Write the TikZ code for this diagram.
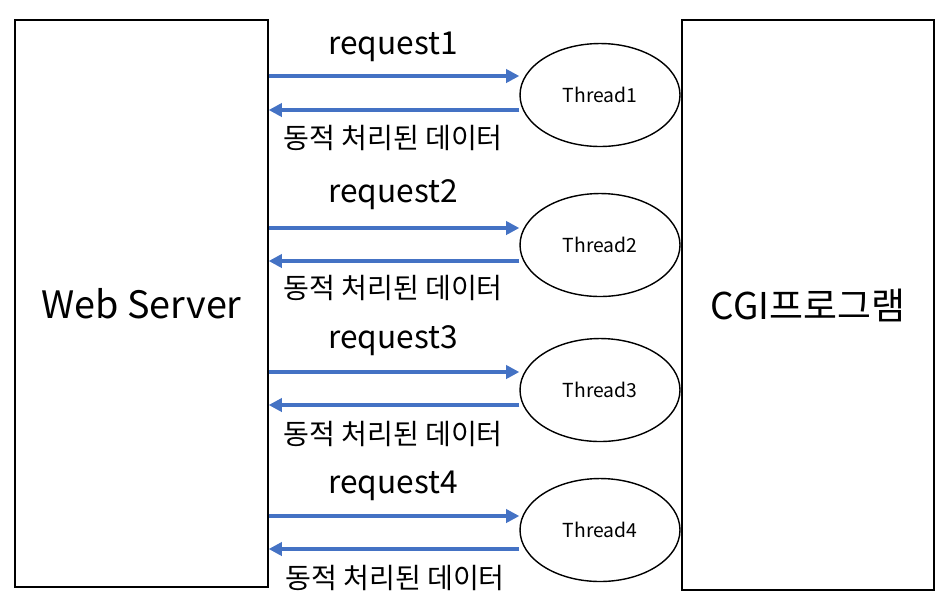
\documentclass[tikz,border=0pt]{standalone}
\usepackage{fontspec}
\setmainfont{Noto Sans CJK KR}
\usepackage{tikz}
\usetikzlibrary{arrows.meta}
\usetikzlibrary{shapes,positioning}
\tikzset{>={Triangle[length=7.5pt,width=7.5pt]},
  box/.style={draw,thick,inner sep=0pt},
  thread/.style={draw,thick,ellipse,minimum width=3.2cm,minimum height=2.06cm,inner sep=0pt,font=\fontsize{11}{13}\selectfont},
  flow/.style={->,line width=1.8pt,draw={rgb,255:red,68;green,114;blue,196}},
  lbl/.style={font=\fontsize{16}{19}\selectfont,inner sep=0pt},
  req/.style={font=\fontsize{18}{21}\selectfont,inner sep=0pt}}

\begin{document}
\begin{tikzpicture}[x=0.02cm,y=-0.02cm]
  \useasboundingbox (0,0) rectangle (949,610);

  \node [box,minimum width=5.06cm,minimum height=11.34cm] (ws) at (141.5,303.5) {};
  \node [font=\fontsize{21.5}{25}\selectfont] at (ws.center) {Web Server};
  \node [box,minimum width=5.04cm,minimum height=11.4cm] (cgi) at (808,305) {};
  \node [font=\fontsize{21}{25}\selectfont] at (cgi.center) {CGI프로그램};



  \node [thread] (t1) at (600,95) {Thread1};
  \node [thread] (t2) at (600,245) {Thread2};
  \node [thread] (t3) at (600,390) {Thread3};
  \node [thread] (t4) at (600,530) {Thread4};




  \draw [flow] (ws.east |- 0,76) -- (t1.west |- 0,76);
  \draw [flow] (t1.west |- 0,110) -- (ws.east |- 0,110);
  \draw [flow] (ws.east |- 0,228) -- (t2.west |- 0,228);
  \draw [flow] (t2.west |- 0,261) -- (ws.east |- 0,261);
  \draw [flow] (ws.east |- 0,372) -- (t3.west |- 0,372);
  \draw [flow] (t3.west |- 0,405) -- (ws.east |- 0,405);
  \draw [flow] (ws.east |- 0,516) -- (t4.west |- 0,516);
  \draw [flow] (t4.west |- 0,549) -- (ws.east |- 0,549);




  \node [req] (r1) at (393,47) {request1};
  \node [lbl] (d1) at (393,138) {동적 처리된 데이터};
  \node [req] (r2) at (393,195) {request2};
  \node [lbl] (d2) at (393,288) {동적 처리된 데이터};
  \node [req] (r3) at (393,341) {request3};
  \node [lbl] (d3) at (393,434) {동적 처리된 데이터};
  \node [req] (r4) at (393,486) {request4};
  \node [lbl] (d4) at (395,578) {동적 처리된 데이터};

\end{tikzpicture}
\end{document}
